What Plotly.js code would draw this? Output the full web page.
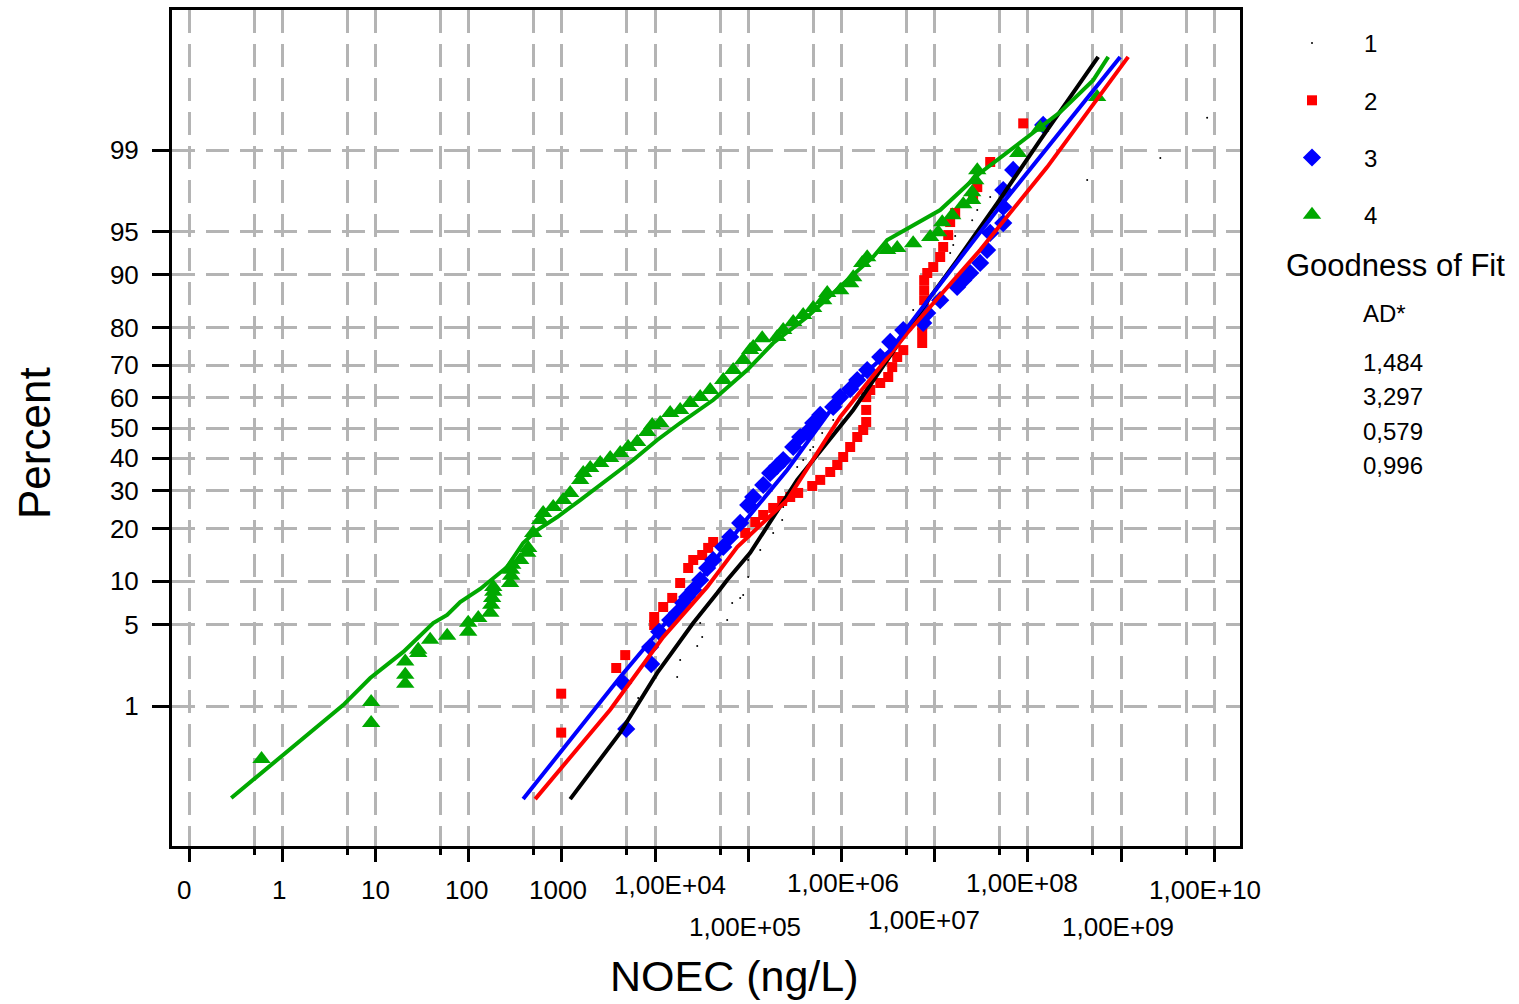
<!DOCTYPE html>
<html><head><meta charset="utf-8">
<script src="https://cdn.plot.ly/plotly-3.0.1.min.js"></script>
<style>html,body{margin:0;padding:0;background:#fff;}#chart{width:1519px;height:1004px;}</style>
</head><body><div id="chart"></div>
<script>
// ---------- DATA ----------
// Series 1 (black dots) - NOEC (ng/L) and plotted percent
const s1NOEC = [6600,17300,18620,28380,32100,30530,59500,67300,82000,88400,100000,100000,134600,185400,231600,237500,335500,389000,462400,497900,622300,816600,2.19e6,5.89e6,8.34e6,8.97e6,1.469e7,1.585e7,1.663e7,2.53e7,2.87e7,3.95e7,4.34e8,2.64e9,8.4e9];
const s1Pct  = [1.19,1.86,2.61,3.41,4.01,5.13,5.40,7.16,7.75,8.12,10.62,13.47,15.37,18.99,22.09,25.46,37.22,39.44,42.7,43.69,48.33,52.67,72.37,83.82,88.74,89.69,92.84,93.71,94.6,95.9,96.59,97.34,98.1,98.81,99.53];
// Series 2 (red squares)
const s2NOEC = [985,985,3836,4790,9800,9800,12240,15300,18620,22700,25700,32100,37200,42100,92900,118900,144900,185400,231600,282400,343600,486300,592600,758600,901600,1.045e6,1.242e6,1.479e6,1.714e6,1.845e6,1.845e6,1.845e6,2.04e6,2.61e6,3.18e6,3.51e6,3.97e6,4.61e6,7.36e6,7.36e6,7.36e6,7.55e6,7.73e6,7.73e6,7.73e6,8.34e6,9.67e6,1.148e7,1.236e7,1.40e7,1.469e7,1.663e7,2.59e7,2.87e7,3.95e7,8.93e7];
const s2Pct  = [0.54,1.31,2.23,2.87,4.96,5.69,6.71,7.75,9.73,12.07,13.47,14.39,15.78,17.01,18.99,21.57,23.33,25.17,27.07,28.19,29.34,31.38,33.2,35.64,37.84,40.41,43.69,47.0,49.33,52.0,56.0,60.2,62.47,64.68,66.53,69.5,72.37,74.28,76.15,78.66,80.56,82.76,85.76,87.56,89.2,90.27,91.1,92.38,93.51,94.68,95.76,96.40,97.34,97.81,98.70,99.46];
// Series 3 (blue diamonds)
const s3NOEC = [4910,4560,9100,8870,11090,14550,17300,20090,22150,25700,30530,36300,42100,53950,64100,82000,100000,113100,144900,172000,204700,237500,304000,361300,429600,497900,592600,816600,971000,1.242e6,1.479e6,1.891e6,2.61e6,3.34e6,4.61e6,7.55e6,8.34e6,1.148e7,1.746e7,2.03e7,2.41e7,3.08e7,3.66e7,3.95e7,5.45e7,5.45e7,5.45e7,6.97e7,1.462e8];
const s3Pct  = [0.59,1.64,2.41,3.34,4.40,5.40,6.10,7.16,7.87,8.76,10.17,12.07,13.47,15.97,18.09,21.34,25.97,28.19,31.67,35.32,37.53,39.44,43.69,47.0,48.66,51.67,54.34,56.98,60.2,62.78,65.61,68.61,72.37,76.42,79.37,81.03,83.2,85.76,88.1,89.2,90.27,91.64,93.18,94.87,95.68,96.78,97.68,98.46,99.44];
// Series 4 (green triangles)
const s4NOEC = [0.60,9.0,9.0,20.9,20.9,20.9,28.8,28.8,38.7,58.9,99,99,127,171,175,179,184,184,279,286,286,294,358,426,436,493,586,631,809,1035,1230,1575,1698,2018,2584,3305,4236,5155,6442,8241,9333,11370,14550,18620,23860,30530,39080,53950,69040,88370,104900,113100,141300,204700,237500,304000,389000,497900,638000,704700,971000,1.242e6,1.339e6,1.672e6,1.891e6,3.10e6,3.97e6,5.89e6,8.97e6,1.093e7,1.207e7,1.545e7,2.03e7,2.53e7,2.53e7,2.73e7,2.87e7,7.89e7,1.358e8,5.55e8];
const s4Pct  = [0.28,0.68,1.09,1.62,1.95,2.53,2.99,3.17,3.82,4.10,4.40,5.15,5.60,6.10,6.95,7.75,8.53,9.18,9.73,10.81,11.76,12.62,13.47,14.81,15.78,18.99,22.09,23.87,25.46,27.33,29.34,33.20,35.32,36.90,38.48,40.10,41.72,43.69,45.35,48.66,51.00,51.67,55.0,55.99,58.28,60.21,62.47,65.61,68.61,71.51,74.28,75.09,77.40,77.66,79.37,81.23,82.76,84.23,85.76,87.05,87.56,88.73,89.66,91.62,92.35,93.18,93.39,93.90,94.50,94.93,95.75,96.25,96.94,97.18,97.58,98.09,98.45,98.93,99.40,99.72];
// Fitted curves
const f1NOEC = [1230,4236,10560,25700,46500,59500,105000,185400,335500,1.339e6,8.97e6,1.746e7,4.70e7,1.358e8,5.69e8];
const f1Pct  = [0.095,0.54,2.02,5.13,8.36,10.17,14.8,22.8,33.2,56.0,86.33,92.0,97.01,99.2,99.905];
const f2NOEC = [518,3305,12240,36300,76200,262000,971000,5.08e6,3.08e7,1.614e8,1.194e9];
const f2Pct  = [0.095,0.92,4.01,9.18,15.97,27.33,53.67,78.66,93.18,98.55,99.905];
const f3NOEC = [385,4236,22150,82000,262000,971000,3.34e6,8.97e6,4.70e7,2.65e8,9.8e8];
const f3Pct  = [0.095,1.86,7.87,20.38,36.28,60.2,74.28,86.33,96.59,99.46,99.905];
const f4NOEC = [0.284,0.952,4.51,8.80,19.9,41.7,58.9,81.2,133,259,385,545,893,1575,3069,5834,10560,18620,42100,97500,185400,429600,1.153e6,2.19e6,3.10e6,4.27e6,1.148e7,3.08e7,8.28e7,2.23e8,5.03e8,7.30e8];
const f4Pct  = [0.098,0.295,1.02,1.82,3.05,5.13,5.88,7.27,8.90,12.24,16.80,19.66,22.82,27.33,33.2,39.44,46.0,51.67,59.25,68.61,76.15,82.36,89.2,92.38,94.22,94.87,96.59,98.36,99.15,99.59,99.82,99.905];
// Tick labels
const xTickVals = [0.1,1,10,100,1000,1e4,1e5,1e6,1e7,1e8,1e9,1e10];
const xTickText = ['0','1','10','100','1000','1,00E+04','1,00E+05','1,00E+06','1,00E+07','1,00E+08','1,00E+09','1,00E+10'];
const xMinorVals = [0.5,5,50,500,5000,5e4,5e5,5e6,5e7,5e8,5e9];
const yTickPct = [1,5,10,20,30,40,50,60,70,80,90,95,99];
const seriesNames = ['1','2','3','4'];
const adLabel = 'AD*';
const adValues = ['1,484','3,297','0,579','0,996'];

// ---------- probability scale ----------
function probit(p){
  const a=[-3.969683028665376e+01,2.209460984245205e+02,-2.759285104469687e+02,1.383577518672690e+02,-3.066479806614716e+01,2.506628277459239e+00];
  const b=[-5.447609879822406e+01,1.615858368580409e+02,-1.556989798598866e+02,6.680131188771972e+01,-1.328068155288572e+01];
  const c=[-7.784894002430293e-03,-3.223964580411365e-01,-2.400758277161838e+00,-2.549732539343734e+00,4.374664141464968e+00,2.938163982698783e+00];
  const d=[7.784695709041462e-03,3.224671290700398e-01,2.445134137142996e+00,3.754408661907416e+00];
  const pl=0.02425, ph=1-pl; let q,r;
  if(p<pl){q=Math.sqrt(-2*Math.log(p));return (((((c[0]*q+c[1])*q+c[2])*q+c[3])*q+c[4])*q+c[5])/((((d[0]*q+d[1])*q+d[2])*q+d[3])*q+1);}
  if(p>ph){q=Math.sqrt(-2*Math.log(1-p));return -(((((c[0]*q+c[1])*q+c[2])*q+c[3])*q+c[4])*q+c[5])/((((d[0]*q+d[1])*q+d[2])*q+d[3])*q+1);}
  q=p-0.5;r=q*q;return (((((a[0]*r+a[1])*r+a[2])*r+a[3])*r+a[4])*r+a[5])*q/(((((b[0]*r+b[1])*r+b[2])*r+b[3])*r+b[4])*r+1);
}
const Z = arr => arr.map(v => probit(v/100));

// ---------- styles ----------
const FONT = 'Liberation Sans, Arial, sans-serif';
const cols = ['#000000','#ff0000','#0000ff','#00a800'];
const gridStyle = {showgrid:true, gridcolor:'#b4b4b4', gridwidth:3, griddash:'23px,11px'};

const pts = [
  {x:s1NOEC,y:Z(s1Pct),sym:'circle',size:2},
  {x:s2NOEC,y:Z(s2Pct),sym:'square',size:10},
  {x:s3NOEC,y:Z(s3Pct),sym:'diamond',size:14},
  {x:s4NOEC,y:Z(s4Pct),sym:'triangle-up',size:16}
];
const fits = [[f1NOEC,f1Pct],[f2NOEC,f2Pct],[f3NOEC,f3Pct],[f4NOEC,f4Pct]];

const traces = [];
pts.forEach((p,i)=>{
  traces.push({type:'scatter',mode:'markers',name:seriesNames[i],legendgroup:'g'+i,x:p.x,y:p.y,
    marker:{symbol:p.sym,size:p.size,color:cols[i],line:{width:0}},hoverinfo:'x+y'});
});
fits.forEach((f,i)=>{
  traces.push({type:'scatter',mode:'lines',showlegend:false,legendgroup:'g'+i,x:f[0],y:Z(f[1]),
    line:{color:cols[i],width:4},hoverinfo:'skip'});
});

// ---------- layout ----------
const L=172, R=1240, T=10, B=846, W=1519, H=1004;
const px2paperX = px => (px-L)/(R-L);
const px2paperY = py => (B-py)/(B-T);

const xLabelCenterY = [890,890,890,890,890,885,927,883,920,883,927,890];
const xLabelShift   = [-5,-3,0,-2,-4,15,-3,2,-11,-6,-3,-9];

const annotations = [];
xTickVals.forEach((v,i)=>{
  annotations.push({xref:'x',yref:'paper',x:Math.log10(v),y:0,yanchor:'middle',xanchor:'center',
    yshift:B-xLabelCenterY[i],xshift:xLabelShift[i],showarrow:false,text:xTickText[i],
    font:{family:FONT,size:26,color:'#000'}});
});
annotations.push({xref:'paper',yref:'paper',x:px2paperX(734),y:px2paperY(976),xanchor:'center',yanchor:'middle',
  showarrow:false,text:'NOEC (ng/L)',font:{family:FONT,size:43,color:'#000'}});
annotations.push({xref:'paper',yref:'paper',x:px2paperX(34),y:px2paperY(443),xanchor:'center',yanchor:'middle',
  textangle:-90,showarrow:false,text:'Percent',font:{family:FONT,size:44,color:'#000'}});
annotations.push({xref:'paper',yref:'paper',x:px2paperX(1395),y:px2paperY(265),xanchor:'center',yanchor:'middle',
  showarrow:false,text:'Goodness of Fit',font:{family:FONT,size:31,color:'#000'}});
annotations.push({xref:'paper',yref:'paper',x:px2paperX(1361),y:px2paperY(313),xanchor:'left',yanchor:'middle',
  showarrow:false,text:adLabel,font:{family:FONT,size:24,color:'#000'}});
const adY=[362,396,431,466];
adValues.forEach((t,i)=>annotations.push({xref:'paper',yref:'paper',x:px2paperX(1361),y:px2paperY(adY[i]),
  xanchor:'left',yanchor:'middle',showarrow:false,text:t,font:{family:FONT,size:24,color:'#000'}}));

const layout = {
  width:W,height:H,
  margin:{l:L,r:W-R,t:T,b:H-B,pad:0},
  paper_bgcolor:'#fff',plot_bgcolor:'#fff',
  font:{family:FONT,color:'#000'},
  showlegend:true,
  legend:{x:px2paperX(1260),y:px2paperY(21),xanchor:'left',yanchor:'top',itemwidth:94,tracegroupgap:23,
    font:{family:FONT,size:24,color:'#000'},bgcolor:'rgba(0,0,0,0)',borderwidth:0},
  xaxis:Object.assign({type:'log',range:[Math.log10(0.1)-(189-L)/93.2,Math.log10(0.1)+(R-189)/93.2],
    tickmode:'array',tickvals:xTickVals,showticklabels:false,ticks:'outside',ticklen:13,tickwidth:3,tickcolor:'#000',
    showline:true,linewidth:3,linecolor:'#000',mirror:true,zeroline:false,
    minor:{tickmode:'array',tickvals:xMinorVals,ticks:'outside',ticklen:6,tickwidth:3,tickcolor:'#000',
      showgrid:true,gridcolor:'#b4b4b4',gridwidth:3,griddash:'23px,11px'}},gridStyle),
  yaxis:Object.assign({range:[-(B-428)/119.5,(428-T)/119.5],tickmode:'array',tickvals:Z(yTickPct),ticktext:yTickPct.map(String),
    ticks:'outside',ticklen:17,tickwidth:3,tickcolor:'#000',ticklabelstandoff:8,
    tickfont:{family:FONT,size:26,color:'#000'},
    showline:true,linewidth:3,linecolor:'#000',mirror:true,zeroline:false},gridStyle),
  annotations:annotations
};
Plotly.newPlot('chart',traces,layout,{displayModeBar:false,staticPlot:true});
</script>
</body></html>
